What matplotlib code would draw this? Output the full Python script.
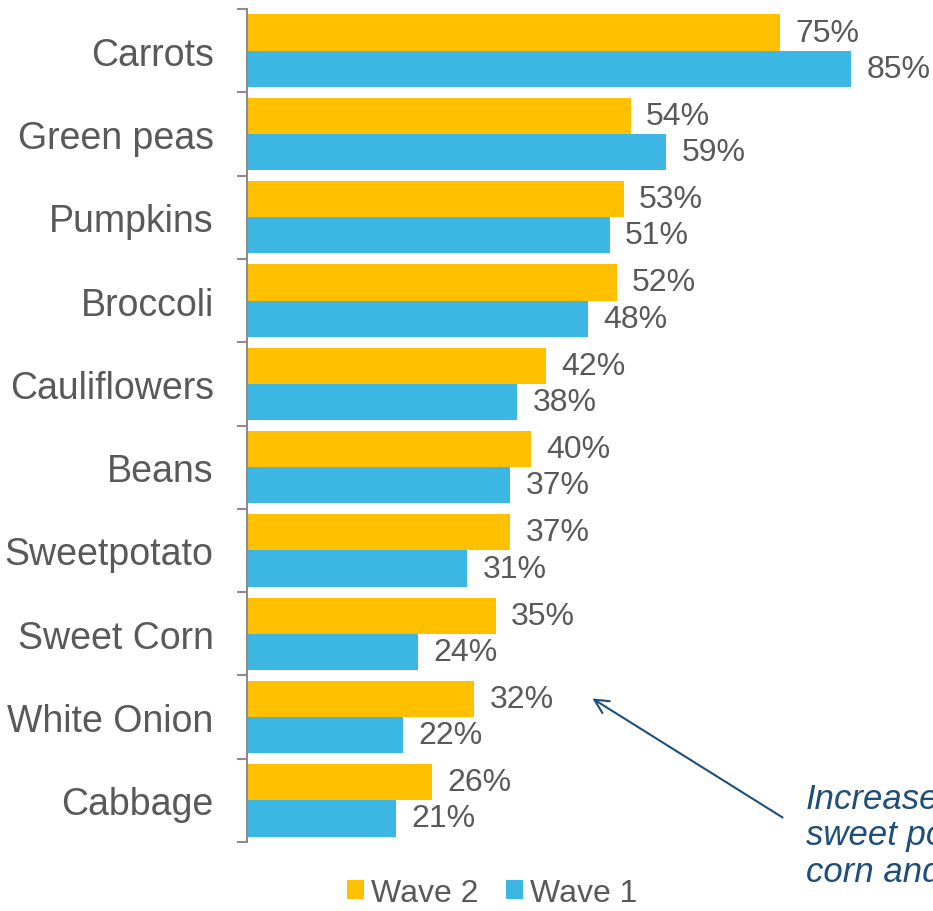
import matplotlib.pyplot as plt
import numpy as np

plt.rcParams['font.family'] = ['Liberation Sans', 'DejaVu Sans']

categories = ['Carrots', 'Green peas', 'Pumpkins', 'Broccoli', 'Cauliflowers',
              'Beans', 'Sweetpotato', 'Sweet Corn', 'White Onion', 'Cabbage']
wave2 = [75, 54, 53, 52, 42, 40, 37, 35, 32, 26]
wave1 = [85, 59, 51, 48, 38, 37, 31, 24, 22, 21]

gold = '#FFC000'
blue = '#3CB6E3'
grey = '#595959'

fig = plt.figure(figsize=(9.33, 9.12), dpi=100)
ax = fig.add_axes([247/933, 1 - 843/912, 1 - 247/933, (843 - 10)/912])

y = np.arange(len(categories))
h = 0.435
ax.barh(y - h/2, wave2, height=h, color=gold, label='Wave 2')
ax.barh(y + h/2, wave1, height=h, color=blue, label='Wave 1')

for yi, v in zip(y, wave2):
    ax.annotate(f'{v}%', (v, yi - h/2), xytext=(11, 0), textcoords='offset points',
                va='center', ha='left', fontsize=23, color=grey)
for yi, v in zip(y, wave1):
    ax.annotate(f'{v}%', (v, yi + h/2), xytext=(11, 0), textcoords='offset points',
                va='center', ha='left', fontsize=23, color=grey)

ax.set_xlim(0, 96.5)
ax.set_ylim(len(categories) - 0.5, -0.5)
ax.set_yticks(y)
ax.set_yticklabels(categories, fontsize=27, color=grey)
ax.set_yticks(np.arange(len(categories) + 1) - 0.5, minor=True)
ax.tick_params(axis='y', which='major', length=0, pad=24)
ax.tick_params(axis='y', which='minor', length=7, width=1.5, color='#8c8c8c')
ax.set_xticks([])
for s in ['top', 'right', 'bottom']:
    ax.spines[s].set_visible(False)
ax.spines['left'].set_color('#8c8c8c')
ax.spines['left'].set_linewidth(1.5)

ax.annotate('', xy=(590, 912 - 698), xycoords='figure pixels',
            xytext=(785, 912 - 820), textcoords='figure pixels',
            arrowprops=dict(arrowstyle='->', color='#1F4E79', lw=1.5, mutation_scale=25))
fig.text(806, 912 - 836, 'Increased\nsweet potato,\ncorn and onion', transform=None,
         fontsize=25, style='italic', color='#1F4E79', va='center', ha='left',
         linespacing=1.15)

fig.legend(loc='center', bbox_to_anchor=(492/933, 1 - 894/912), ncol=2, frameon=False,
           fontsize=23, handlelength=0.53, handleheight=0.53, handletextpad=0.22,
           columnspacing=0.87, labelcolor=grey, borderpad=0.1)

fig.savefig('out.png', dpi=100)
